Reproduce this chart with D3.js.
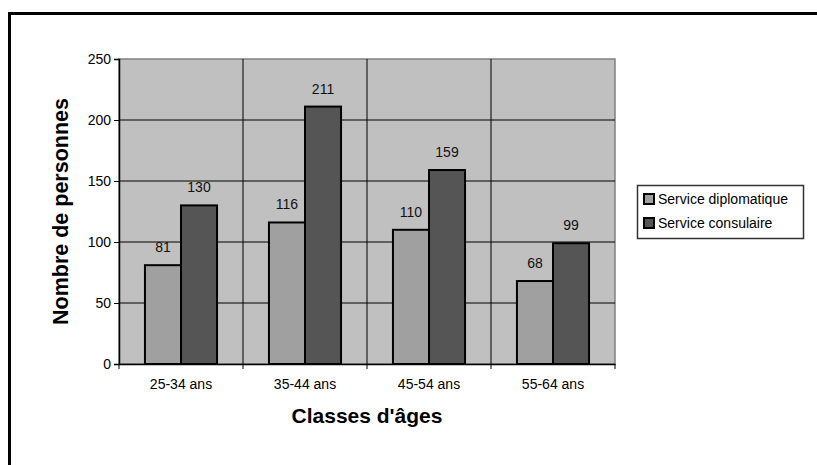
<!DOCTYPE html>
<html>
<head>
<meta charset="utf-8">
<script src="https://cdn.jsdelivr.net/npm/d3@7"></script>
<style>
  html, body { margin: 0; padding: 0; background: #fff; }
  svg { display: block; font-family: "Liberation Sans", Arial, sans-serif; }
</style>
</head>
<body>
<svg id="chart" width="817" height="465"></svg>
<script>
// Age classes and staff counts per service
const categories = ["25-34 ans", "35-44 ans", "45-54 ans", "55-64 ans"];
const seriesNames = ["Service diplomatique", "Service consulaire"];
const diplomatique = [81, 116, 110, 68];
const consulaire = [130, 211, 159, 99];
const yTicks = [0, 50, 100, 150, 200, 250];
const seriesColors = ["#a0a0a0", "#555555"];

const svg = d3.select("#chart");
const FONT = "Liberation Sans, Arial, sans-serif";

// outer frame (runs past the right and bottom edges)
svg.append("rect")
  .attr("x", 9.5).attr("y", 13.5)
  .attr("width", 900).attr("height", 600)
  .attr("fill", "none").attr("stroke", "#000").attr("stroke-width", 3);

const plot = { left: 119, top: 59, right: 615, bottom: 364 };

const x = d3.scaleBand().domain(categories).range([plot.left, plot.right]).padding(0);
const y = d3.scaleLinear().domain([0, 250]).range([plot.bottom, plot.top]);
const inner = d3.scaleBand().domain(seriesNames)
  .range([0, x.bandwidth()]).paddingInner(0).paddingOuter(0.72);

// plot background
svg.append("rect")
  .attr("x", plot.left).attr("y", plot.top)
  .attr("width", plot.right - plot.left).attr("height", plot.bottom - plot.top)
  .attr("fill", "#c0c0c0").attr("stroke", "#808080").attr("stroke-width", 1.5);

// horizontal gridlines
svg.append("g").selectAll("line").data(yTicks.filter(t => t > 0 && t < 250)).join("line")
  .attr("x1", plot.left).attr("x2", plot.right)
  .attr("y1", d => y(d)).attr("y2", d => y(d))
  .attr("stroke", "#000").attr("stroke-width", 1);

// vertical category separators
svg.append("g").selectAll("line").data(categories.slice(1)).join("line")
  .attr("x1", d => x(d)).attr("x2", d => x(d))
  .attr("y1", plot.top).attr("y2", plot.bottom)
  .attr("stroke", "#000").attr("stroke-width", 1);

const rows = categories.map((c, i) => ({ cat: c, values: [diplomatique[i], consulaire[i]] }));

// bars
const groups = svg.append("g").selectAll("g").data(rows).join("g")
  .attr("transform", d => `translate(${x(d.cat)},0)`);

groups.selectAll("rect").data(d => d.values.map((v, j) => ({ v, s: seriesNames[j], j }))).join("rect")
  .attr("x", d => inner(d.s))
  .attr("y", d => y(d.v))
  .attr("width", inner.bandwidth())
  .attr("height", d => y(0) - y(d.v))
  .attr("fill", d => seriesColors[d.j])
  .attr("stroke", "#000").attr("stroke-width", 2);

// value labels
groups.selectAll("text").data(d => d.values.map((v, j) => ({ v, s: seriesNames[j] }))).join("text")
  .attr("x", d => inner(d.s) + inner.bandwidth() / 2)
  .attr("y", d => y(d.v) - 13)
  .attr("text-anchor", "middle")
  .attr("font-size", 14).attr("fill", "#111")
  .text(d => d.v);

// y axis
const yAxis = svg.append("g").attr("transform", `translate(${plot.left},0)`)
  .call(d3.axisLeft(y).tickValues(yTicks).tickSize(5).tickPadding(3));
yAxis.select(".domain").attr("stroke", "#000").attr("stroke-width", 1.5);
yAxis.selectAll("text").attr("font-size", 14).attr("fill", "#000").attr("font-family", FONT);

// x axis
const xAxis = svg.append("g").attr("transform", `translate(0,${plot.bottom})`)
  .call(d3.axisBottom(x).tickSize(0).tickPadding(15));
xAxis.select(".domain").attr("stroke", "#000").attr("stroke-width", 1.5);
xAxis.selectAll("text").attr("font-size", 14).attr("fill", "#000").attr("font-family", FONT);
// tick marks at category boundaries
svg.append("g").selectAll("line").data(categories.concat(["end"])).join("line")
  .attr("x1", (d, i) => plot.left + i * x.bandwidth())
  .attr("x2", (d, i) => plot.left + i * x.bandwidth())
  .attr("y1", plot.bottom).attr("y2", plot.bottom + 5)
  .attr("stroke", "#000").attr("stroke-width", 1);

// axis titles
svg.append("text")
  .attr("transform", `translate(68,${(plot.top + plot.bottom) / 2}) rotate(-90)`)
  .attr("text-anchor", "middle")
  .attr("font-size", 21.5).attr("font-weight", "bold")
  .text("Nombre de personnes");

svg.append("text")
  .attr("x", (plot.left + plot.right) / 2).attr("y", 423)
  .attr("text-anchor", "middle")
  .attr("font-size", 21).attr("font-weight", "bold")
  .text("Classes d'âges");

// legend
const legend = svg.append("g").attr("transform", "translate(637,185)");
legend.append("rect").attr("x", 0.5).attr("y", 0.5).attr("width", 166).attr("height", 53)
  .attr("fill", "#fff").attr("stroke", "#333").attr("stroke-width", 1.5);
const items = legend.selectAll("g").data(seriesNames).join("g")
  .attr("transform", (d, i) => `translate(7,${14 + i * 24})`);
items.append("rect").attr("x", 0).attr("y", -5).attr("width", 10).attr("height", 10)
  .attr("fill", (d, i) => seriesColors[i]).attr("stroke", "#000").attr("stroke-width", 2);
items.append("text").attr("x", 14).attr("y", 5)
  .attr("font-size", 14).attr("fill", "#000")
  .text(d => d);
</script>
</body>
</html>
